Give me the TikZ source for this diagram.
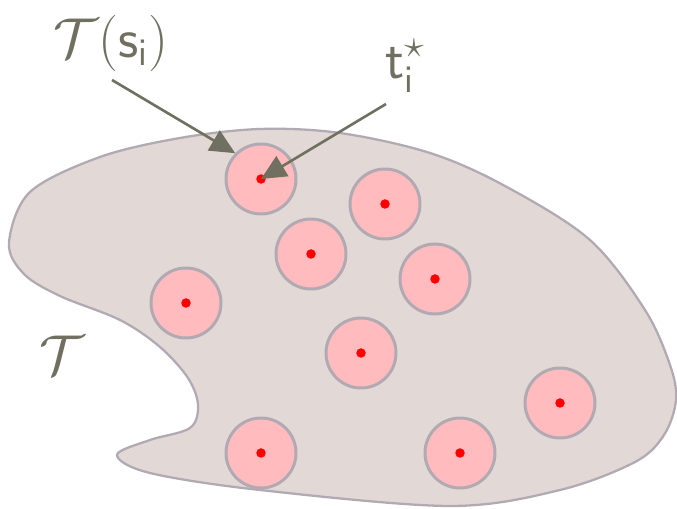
\RequirePackage{fix-cm}
\documentclass[tikz,border=0pt]{standalone}
\usepackage{fontspec}
\usetikzlibrary{arrows.meta}
\definecolor{inkgray}{RGB}{112,112,96}
\definecolor{regionfill}{RGB}{226,217,215}
\definecolor{rimgray}{RGB}{178,170,178}
\definecolor{ballfill}{RGB}{255,187,190}
\begin{document}
\begin{tikzpicture}[x=0.02cm, y=-0.02cm,
    region/.style={draw=rimgray, fill=regionfill, line width=1.3pt},
    ball/.style={circle, draw=rimgray, fill=ballfill, line width=1.7pt, minimum size=1.4cm, inner sep=0pt},
    centre/.style={circle, fill=red, minimum size=0.19cm, inner sep=0pt},
    label/.style={text=inkgray, font=\fontsize{32}{38}\selectfont, inner sep=0pt},
    pointer/.style={draw=inkgray, line width=1.5pt, -{Triangle[length=0.5cm, width=0.46cm]}}
]
\useasboundingbox (0,0) rectangle (677,509);

% Region T
\draw[region] plot[smooth cycle, tension=0.55] coordinates {
    (260,129) (340,133) (430,153) (505,186) (590,240) (645,310) (670,365)
    (676,400) (664,435) (635,462) (560,490) (450,506) (260,490) (150,473)
    (117,455) (150,440) (190,428) (198,405) (188,378) (160,347) (120,320)
    (60,296) (24,274) (9,243) (30,192) (100,157) (180,138)
};

% Balls and their centres
\foreach \i/\x/\y in {1/261/179, 2/385/204, 3/311/254, 4/435/279, 5/186/303,
                      6/361/353, 7/560/403, 8/261/453, 9/460/453} {
    \node[ball] (ball\i) at (\x,\y) {};
    \node[centre] (dot\i) at (\x,\y) {};
}

% Labels
\node[label] (regionlabel) at (62,355) {$\mathcal{T}$};
\node[label] (balllabel) at (111,43) {$\mathcal{T}(\mathsf{s}_{\mathsf{i}})$};
\node[label] (centrelabel) at (405,66) {$\mathsf{t}_{\mathsf{i}}^{\star}$};

% Pointers
\coordinate (balltail) at (112,80);
\coordinate (centretail) at (386,104);
\draw[pointer] (balltail) -- (ball1.135);
\draw[pointer] (centretail) -- (dot1.center);

\end{tikzpicture}
\end{document}
